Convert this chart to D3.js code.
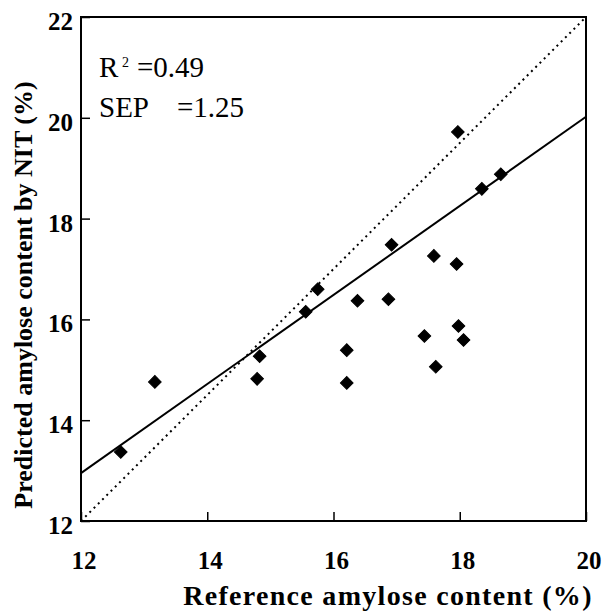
<!DOCTYPE html>
<html>
<head>
<meta charset="utf-8">
<script src="https://cdn.jsdelivr.net/npm/d3@7"></script>
<style>
  body { margin: 0; background: #fff; }
  text { font-family: "Liberation Serif", "Times New Roman", serif; }
</style>
</head>
<body>
<div id="chartHolder"></div>
<script>
// reference (x) and NIT predicted (y) amylose content, %
const refValues  = [12.63, 13.17, 14.83, 14.79, 15.56, 15.75, 16.21, 16.21, 16.38, 16.87,
                    16.92, 17.44, 17.62, 17.98, 18.06, 17.97, 18.35, 18.65, 17.59, 17.95];
const predValues = [13.37, 14.76, 15.27, 14.82, 16.15, 16.60, 15.39, 14.74, 16.37, 16.40,
                    17.48, 15.67, 15.06, 15.87, 15.59, 19.72, 18.59, 18.88, 17.26, 17.10];
const xTicks = [12, 14, 16, 18, 20];
const yTicks = [12, 14, 16, 18, 20, 22];
const fitLine = [[12, 12.95], [20, 20.02]];
const diagLine = [[12, 12], [20, 22]];

function GetChart(){
  const width = 605;
  const height = 614;
  const left = 81, right = 586, top = 17, bottom = 521;

  const svg = d3.select("#chartHolder")
                .append("svg")
                .attr("width", width)
                .attr("height", height)

  const xScale = d3.scaleLinear().domain([12, 20]).range([left, right])
  const yScale = d3.scaleLinear().domain([12, 22]).range([bottom, top])

  // frame
  svg.append("rect")
     .attr("x", left).attr("y", top)
     .attr("width", right - left).attr("height", bottom - top)
     .style("fill", "none").style("stroke", "#000").style("stroke-width", 2)

  // x axis, ticks pointing inwards
  const xAxis = d3.axisTop(xScale).tickValues(xTicks).tickSize(9).tickFormat("")
  svg.append("g")
     .attr("transform", `translate(0,${bottom})`)
     .call(xAxis)
     .call(g => g.select(".domain").remove())
     .call(g => g.selectAll("line").style("stroke-width", 1.5))
  svg.append("g")
     .selectAll("text")
     .data(xTicks)
     .enter()
     .append("text")
     .attr("x", d => xScale(d) + 3)
     .attr("y", 569)
     .attr("text-anchor", "middle")
     .style("font-size", "25px")
     .style("font-weight", "bold")
     .text(d => d)

  // y axis
  const yAxis = d3.axisRight(yScale).tickValues(yTicks).tickSize(9).tickFormat("")
  svg.append("g")
     .attr("transform", `translate(${left},0)`)
     .call(yAxis)
     .call(g => g.select(".domain").remove())
     .call(g => g.selectAll("line").style("stroke-width", 1.5))
  svg.append("g")
     .selectAll("text")
     .data(yTicks)
     .enter()
     .append("text")
     .attr("x", 73)
     .attr("y", d => yScale(d) + 13)
     .attr("text-anchor", "end")
     .style("font-size", "25px")
     .style("font-weight", "bold")
     .text(d => d)

  // axis titles
  svg.append("text")
     .attr("x", 388)
     .attr("y", 605)
     .attr("text-anchor", "middle")
     .style("font-size", "28px")
     .style("font-weight", "bold")
     .style("letter-spacing", "1.3px")
     .text("Reference amylose content (%)")
  svg.append("text")
     .attr("transform", "rotate(-90)")
     .attr("x", -295)
     .attr("y", 32)
     .attr("text-anchor", "middle")
     .style("font-size", "26px")
     .style("font-weight", "bold")
     .text("Predicted amylose content by NIT (%)")

  // lines
  const line = d3.line().x(d => xScale(d[0])).y(d => yScale(d[1]))
  svg.append("path")
     .attr("d", line(diagLine))
     .style("fill", "none").style("stroke", "#000")
     .style("stroke-width", 2).style("stroke-dasharray", "2,4")
  svg.append("path")
     .attr("d", line(fitLine))
     .style("fill", "none").style("stroke", "#000").style("stroke-width", 2)

  // points
  const diamond = d3.symbol().type(d3.symbolSquare).size(80)
  svg.append("g")
     .selectAll("path")
     .data(refValues)
     .enter()
     .append("path")
     .attr("d", diamond)
     .attr("transform", (d, i) => `translate(${xScale(d)},${yScale(predValues[i])}) rotate(45)`)
     .style("fill", "#000")
     .style("stroke", "#000")
     .style("stroke-width", 1)

  // stats
  const stats = svg.append("g").style("font-size", "29px")
  const r2 = stats.append("text").attr("x", 99).attr("y", 77)
  r2.append("tspan").text("R")
  r2.append("tspan").attr("x", 122).attr("y", 67).style("font-size", "14px").text("2")
  r2.append("tspan").attr("x", 137).attr("y", 77).text("=0.49")
  const sep = stats.append("text").attr("x", 99).attr("y", 117)
  sep.append("tspan").text("SEP")
  sep.append("tspan").attr("x", 177).text("=1.25")
}
GetChart()
</script>
</body>
</html>
